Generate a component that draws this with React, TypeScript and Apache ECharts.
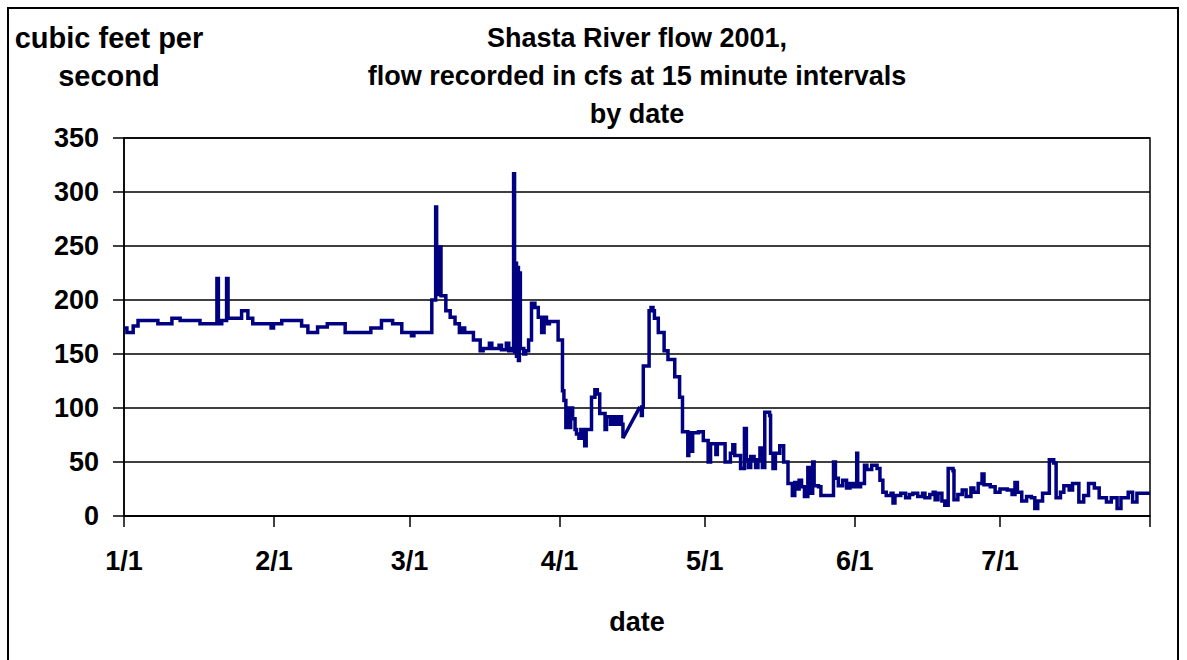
import React, { useEffect, useRef } from "react";
import * as echarts from "echarts";

// Day offsets from Jan 1, 2001 where each month starts (last = Aug 1)
const MONTH_TICKS = [0, 31, 59, 90, 120, 151, 181, 212];
const MONTH_LABELS = ["1/1", "2/1", "3/1", "4/1", "5/1", "6/1", "7/1"];

const TITLE_LINES = [
  "Shasta River flow 2001,",
  "flow recorded in cfs at 15 minute intervals",
  "by date",
];
const Y_NAME_LINES = ["cubic feet per", "second"];
const X_NAME = "date";

// [day since Jan 1, cfs] — flow level from this day on (step changes)
const FLOW_JAN_APR: [number, number][] = [
  [0, 174], [0.6, 170], [1.9, 176], [2.9, 181], [7.0, 178], [9.9, 183], [11.6, 181],
  [15.7, 178], [19.2, 220], [19.5, 178], [20.2, 181], [21.2, 220], [21.5, 183],
  [24.3, 190], [25.6, 183], [26.6, 178], [30.4, 174], [30.9, 178], [32.6, 181],
  [36.7, 176], [38.0, 170], [40.0, 175], [42.0, 178], [45.7, 170], [51.0, 174],
  [53.2, 181], [55.5, 178], [57.4, 170], [59.4, 167], [59.9, 170], [63.6, 200],
  [64.4, 286], [64.6, 205], [64.9, 249], [65.1, 205], [65.3, 249], [65.5, 204],
  [66.5, 190], [67.4, 184], [68.4, 178], [69.3, 170], [70.0, 174], [70.4, 170],
  [72.2, 163], [73.6, 153], [74.2, 155], [75.5, 160], [76.0, 155], [77.5, 158],
  [78.0, 154], [79.0, 160], [79.5, 153], [80.0, 155], [80.5, 317], [80.7, 152],
  [80.9, 234], [81.1, 148], [81.3, 230], [81.5, 144], [81.7, 225], [81.9, 155],
  [82.6, 150], [83.0, 153], [83.6, 163], [84.2, 197], [84.9, 193], [85.6, 184],
  [86.3, 170], [86.8, 184], [87.3, 178], [87.9, 180], [89.7, 163], [90.6, 116],
  [90.9, 107], [91.3, 82], [91.6, 100], [92.0, 82], [92.3, 100], [92.7, 90],
  [93.2, 80], [93.5, 76], [94.0, 72], [94.4, 80], [94.8, 72], [95.2, 65],
  [95.5, 80], [96.6, 110], [97.3, 117], [97.8, 113], [98.3, 95], [99.4, 80],
  [99.7, 92], [100.5, 85], [101.0, 92], [101.7, 85], [102.2, 92], [102.8, 85],
  [103.1, 72],
];

// missing record, joined by a straight line
const FLOW_GAP: [number, number][] = [
  [103.1, 72], [106.6, 101],
];

const FLOW_APR_JUL: [number, number][] = [
  [106.6, 101], [106.9, 93], [107.1, 101], [107.3, 139], [108.5, 190], [108.9, 193],
  [109.3, 190], [109.6, 183], [110.4, 170], [111.6, 153], [112.4, 145], [113.8, 129],
  [114.8, 110], [115.4, 78], [116.5, 56], [116.7, 77], [117.2, 60], [117.5, 77],
  [118.7, 78], [119.7, 70], [120.7, 50], [121.2, 67], [122.3, 57], [122.6, 67],
  [124.2, 50], [125.3, 58], [125.8, 66], [126.2, 56], [127.4, 44], [128.2, 81],
  [128.6, 52], [129.0, 45], [129.5, 55], [130.2, 52], [130.5, 45], [131.0, 52],
  [131.4, 63], [131.9, 45], [132.4, 96], [133.4, 93], [133.6, 58], [134.1, 44],
  [134.6, 58], [135.5, 65], [136.3, 50], [137.2, 30], [138.1, 19], [138.6, 31],
  [139.0, 25], [139.5, 33], [140.0, 27], [140.6, 18], [141.3, 45], [141.6, 21],
  [142.3, 50], [142.6, 28], [143.5, 27], [144.0, 19], [146.6, 50], [147.0, 35],
  [147.6, 28], [148.5, 33], [149.3, 26], [150.0, 30], [150.7, 27], [151.4, 58],
  [151.6, 27], [152.2, 30], [153.0, 47], [153.5, 43], [154.5, 47], [155.6, 44],
  [156.2, 33], [156.8, 22], [157.5, 19], [158.5, 21], [158.9, 12], [159.3, 19],
  [160.5, 21], [161.5, 17], [162.3, 20], [163.0, 21], [164.0, 18], [165.0, 21],
  [165.5, 17], [166.5, 20], [167.2, 22], [167.6, 15], [168.2, 21], [169.0, 14],
  [169.6, 10], [170.3, 44], [171.3, 42], [171.5, 15], [172.3, 20], [173.2, 24],
  [174.0, 18], [175.0, 26], [175.6, 22], [176.5, 30], [177.3, 39], [177.7, 29],
  [179.0, 27], [180.0, 22], [181.0, 25], [182.5, 24], [183.5, 20], [184.1, 31],
  [184.6, 22], [185.5, 14], [186.5, 18], [187.5, 17], [188.2, 7], [188.8, 14],
  [189.8, 21], [191.2, 52], [192.1, 49], [192.6, 17], [193.5, 22], [194.2, 28],
  [195.3, 24], [196.0, 30], [197.3, 13], [198.3, 19], [199.3, 30], [200.5, 26],
  [201.5, 17], [203.0, 13], [204.0, 17], [205.2, 7], [206.0, 17], [207.5, 22],
  [208.4, 13], [209.3, 21], [212, 21],
];

const FONT = '"Liberation Sans", Arial, Helvetica, sans-serif';
const LINE_COLOR = "#000080";

export default function App() {
  const ref = useRef<HTMLDivElement>(null);

  useEffect(() => {
    if (!ref.current) return;
    const chart = echarts.init(ref.current, undefined, { renderer: "svg" });

    const textStyleBase = {
      fontFamily: FONT,
      fontWeight: "bold",
      fontSize: 27,
      fill: "#000",
      textAlign: "center",
      textVerticalAlign: "middle",
    };

    const lineSeries = (data: [number, number][], step: any) => ({
      type: "line",
      data,
      step,
      showSymbol: false,
      symbol: "none",
      lineStyle: { color: LINE_COLOR, width: 3.5, join: "miter" },
      itemStyle: { color: LINE_COLOR },
      silent: true,
    });

    chart.setOption({
      animation: false,
      backgroundColor: "#fff",
      grid: {
        left: 124,
        right: 37,
        top: 138,
        bottom: 144,
        show: true,
        borderColor: "#000",
        borderWidth: 1.5,
        backgroundColor: "transparent",
      },
      xAxis: {
        type: "value",
        min: 0,
        max: 212,
        axisLine: { show: true, lineStyle: { color: "#000", width: 1.5 } },
        axisTick: {
          show: true,
          customValues: MONTH_TICKS,
          length: 11,
          lineStyle: { color: "#000", width: 1.5 },
        },
        axisLabel: {
          customValues: MONTH_TICKS.slice(0, MONTH_LABELS.length),
          formatter: (v: number) => {
            const i = MONTH_TICKS.indexOf(v);
            return i >= 0 && i < MONTH_LABELS.length ? MONTH_LABELS[i] : "";
          },
          margin: 31,
          color: "#000",
          fontFamily: FONT,
          fontWeight: "bold",
          fontSize: 27,
        },
        splitLine: { show: false },
      },
      yAxis: {
        type: "value",
        min: 0,
        max: 350,
        interval: 50,
        axisLine: { show: true, lineStyle: { color: "#000", width: 1.5 } },
        axisTick: { show: true, length: 11, lineStyle: { color: "#000", width: 1.5 } },
        axisLabel: {
          margin: 25,
          color: "#000",
          fontFamily: FONT,
          fontWeight: "bold",
          fontSize: 27,
        },
        splitLine: { show: true, lineStyle: { color: "#000", width: 1.5 } },
      },
      graphic: [
        {
          type: "rect",
          shape: { x: 8, y: 8, width: 1170, height: 660 },
          style: { fill: "none", stroke: "#000", lineWidth: 2 },
          silent: true,
        },
        ...TITLE_LINES.map((t, i) => ({
          type: "text",
          style: { ...textStyleBase, text: t, x: 637, y: 37.5 + i * 38 },
          silent: true,
        })),
        ...Y_NAME_LINES.map((t, i) => ({
          type: "text",
          style: { ...textStyleBase, fontSize: 29, text: t, x: 109, y: 37.5 + i * 38 },
          silent: true,
        })),
        {
          type: "text",
          style: { ...textStyleBase, text: X_NAME, x: 637, y: 622 },
          silent: true,
        },
      ],
      series: [
        lineSeries(FLOW_JAN_APR, "end"),
        lineSeries(FLOW_GAP, false),
        lineSeries(FLOW_APR_JUL, "end"),
      ],
    });

    return () => chart.dispose();
  }, []);

  return (
    <div
      ref={ref}
      style={{ position: "absolute", left: 0, top: 0, width: 1187, height: 660 }}
    />
  );
}
